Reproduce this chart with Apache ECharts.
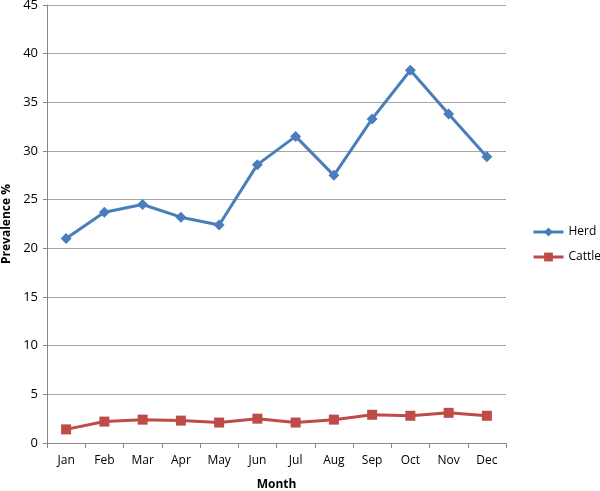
<!DOCTYPE html>
<html><head><meta charset="utf-8">
<script src="https://cdn.jsdelivr.net/npm/echarts@6/dist/echarts.min.js"></script>
<style>html,body{margin:0;padding:0;background:#fff}#c{width:600px;height:491px}</style>
</head><body><div id="c"></div>
<script>
const months = ['Jan','Feb','Mar','Apr','May','Jun','Jul','Aug','Sep','Oct','Nov','Dec'];
const herd = [21.0, 23.7, 24.5, 23.2, 22.4, 28.6, 31.5, 27.5, 33.3, 38.3, 33.8, 29.4];
const cattle = [1.4, 2.2, 2.4, 2.3, 2.1, 2.5, 2.1, 2.4, 2.9, 2.8, 3.1, 2.8];
const yTicks = {min: 0, max: 45, interval: 5};
const font = 'Open Sans, Liberation Sans, sans-serif';
const chart = echarts.init(document.getElementById('c'), null, {renderer: 'canvas'});
chart.setOption({
  animation: false,
  textStyle: {fontFamily: font},
  grid: {left: 47, right: 94, top: 5, bottom: 48, containLabel: false, outerBoundsMode: 'none'},
  legend: {
    orient: 'vertical', left: 527, top: 221, itemWidth: 30, itemHeight: 11, itemGap: 13,
    lineStyle: {width: 3},
    textStyle: {fontSize: 12, color: '#000', fontFamily: font},
    data: ['Herd', 'Cattle']
  },
  xAxis: {
    type: 'category', data: months, boundaryGap: true,
    name: 'Month', nameLocation: 'middle', nameGap: 36,
    nameTextStyle: {fontWeight: 'bold', fontSize: 12, color: '#000'},
    axisLine: {lineStyle: {color: '#888', width: 1}},
    axisTick: {show: true, length: 5, interval: 0, lineStyle: {color: '#888'}},
    axisLabel: {color: '#000', fontSize: 12, margin: 12}
  },
  yAxis: {
    type: 'value', min: yTicks.min, max: yTicks.max, interval: yTicks.interval,
    name: 'Prevalence %', nameLocation: 'middle', nameGap: 31, nameRotate: 90,
    nameTextStyle: {fontWeight: 'bold', fontSize: 12, color: '#000'},
    axisLine: {show: true, lineStyle: {color: '#888', width: 1}},
    axisTick: {show: true, length: 4, lineStyle: {color: '#888'}},
    axisLabel: {color: '#000', fontSize: 13, margin: 9},
    splitLine: {lineStyle: {color: '#a6a6a6', width: 1}}
  },
  series: [
    {name: 'Herd', type: 'line', data: herd, symbol: 'diamond', symbolSize: 11,
     lineStyle: {color: '#4a7ebb', width: 3}, itemStyle: {color: '#4a7ebb'}},
    {name: 'Cattle', type: 'line', data: cattle, symbol: 'rect', symbolSize: 10,
     lineStyle: {color: '#be4b48', width: 3}, itemStyle: {color: '#be4b48'}}
  ]
});
</script></body></html>
